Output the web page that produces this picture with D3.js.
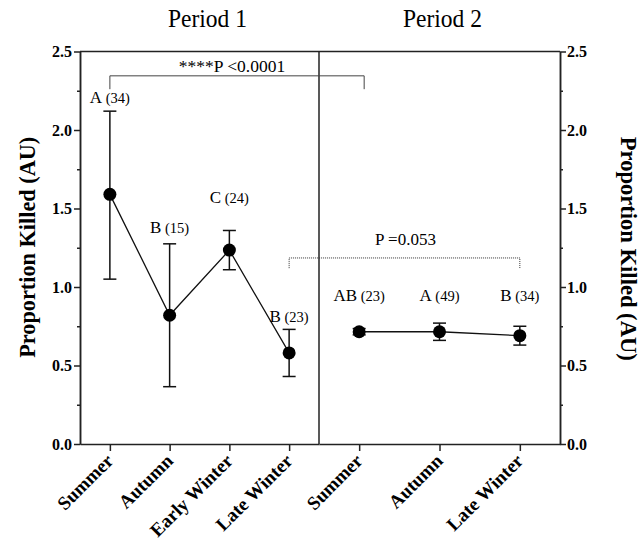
<!DOCTYPE html>
<html>
<head>
<meta charset="utf-8">
<script src="https://cdn.jsdelivr.net/npm/d3@7"></script>
<style>
  body { margin: 0; background: #fff; }
</style>
</head>
<body>
<div class="season-chart"></div>
<script>
// values
var period1Seasons = ["Summer", "Autumn", "Early Winter", "Late Winter"];
var period1Mean = [1.59, 0.82, 1.235, 0.58];
var period1Upper = [2.12, 1.275, 1.36, 0.73];
var period1Lower = [1.05, 0.365, 1.11, 0.43];
var period1Letters = ["A", "B", "C", "B"];
var period1N = [34, 15, 24, 23];

var period2Seasons = ["Summer", "Autumn", "Late Winter"];
var period2Mean = [0.715, 0.715, 0.69];
var period2Upper = [0.735, 0.77, 0.75];
var period2Lower = [0.695, 0.66, 0.63];
var period2Letters = ["AB", "A", "B"];
var period2N = [23, 49, 34];

var yTicks = [0, 0.5, 1.0, 1.5, 2.0, 2.5];
var yMinorTicks = [0.25, 0.75, 1.25, 1.75, 2.25];

var periodTitles = ["Period 1", "Period 2"];
var yTitle = "Proportion Killed (AU)";
var bigCompare = "****P <0.0001";
var smallCompare = "P =0.053";

var SERIF = "'Liberation Serif', 'Times New Roman', serif";
var Chart = {};

Chart.styleAxis = function (ax, size) {
	ax.attr("font-family", null).attr("font-size", null);
	ax.selectAll("path, line").attr("stroke", "#222").attr("stroke-width", 1.5);
	ax.selectAll("text")
		.style("font-family", SERIF)
		.style("font-size", (size || 16) + "px")
		.style("font-weight", "bold")
		.attr("fill", "#000");
	return ax;
}

Chart.draw = function () {
	var width = 641, height = 552;
	var left = 80, mid = 319, right = 560, top = 51.5, bottom = 444;

	var svg = d3.select(".season-chart").append("svg")
		.attr("width", width)
		.attr("height", height)
		.style("font-family", SERIF);

	var y = d3.scaleLinear().domain([0, 2.5]).range([bottom, top]);
	var x1 = d3.scalePoint().domain(period1Seasons).range([left, mid]).padding(0.5);
	var x2 = d3.scalePoint().domain(period2Seasons).range([mid, right]).padding(0.5);

	// y axes
	Chart.styleAxis(svg.append("g")
		.attr("transform", "translate(" + left + ",0)")
		.call(d3.axisLeft(y).tickValues(yTicks).tickFormat(d3.format(".1f")).tickSize(6).tickSizeOuter(0).tickPadding(2)));
	Chart.styleAxis(svg.append("g")
		.attr("transform", "translate(" + left + ",0)")
		.call(d3.axisLeft(y).tickValues(yMinorTicks).tickFormat("").tickSize(3).tickSizeOuter(0)));
	Chart.styleAxis(svg.append("g")
		.attr("transform", "translate(" + right + ",0)")
		.call(d3.axisRight(y).tickValues(yTicks).tickFormat(d3.format(".1f")).tickSize(6).tickSizeOuter(0).tickPadding(1)));
	Chart.styleAxis(svg.append("g")
		.attr("transform", "translate(" + right + ",0)")
		.call(d3.axisRight(y).tickValues(yMinorTicks).tickFormat("").tickSize(3).tickSizeOuter(0)));

	// x axes, labels turned 45deg
	[x1, x2].forEach(function (x) {
		var ax = Chart.styleAxis(svg.append("g")
			.attr("transform", "translate(0," + bottom + ")")
			.call(d3.axisBottom(x).tickSize(7).tickSizeOuter(0)), 19);
		ax.selectAll("text")
			.attr("text-anchor", "end")
			.attr("dy", "0")
			.attr("x", 0).attr("y", 0)
			.attr("transform", "translate(4,18) rotate(-45)");
	});

	// frame top + divider
	svg.append("line").attr("x1", left).attr("x2", right).attr("y1", top).attr("y2", top)
		.attr("stroke", "#222").attr("stroke-width", 1.5);
	svg.append("line").attr("x1", mid).attr("x2", mid).attr("y1", top).attr("y2", bottom)
		.attr("stroke", "#222").attr("stroke-width", 1.5);

	// titles
	svg.selectAll(".period-title").data(periodTitles).enter().append("text")
		.attr("class", "period-title")
		.attr("x", function (d, i) { return i == 0 ? 168 : 403; })
		.attr("y", 27)
		.attr("textLength", 79)
		.attr("lengthAdjust", "spacingAndGlyphs")
		.style("font-size", "25px")
		.text(function (d) { return d; });

	var midY = (top + bottom) / 2;
	svg.append("text")
		.attr("transform", "translate(35," + (midY + 110) + ") rotate(-90)")
		.attr("textLength", 221)
		.attr("lengthAdjust", "spacingAndGlyphs")
		.style("font-size", "24px").style("font-weight", "bold")
		.text(yTitle);
	svg.append("text")
		.attr("transform", "translate(621," + (midY - 111) + ") rotate(90)")
		.attr("textLength", 224)
		.attr("lengthAdjust", "spacingAndGlyphs")
		.style("font-size", "23px").style("font-weight", "bold")
		.text(yTitle);

	// series
	var series = [
		{ x: x1, seasons: period1Seasons, mean: period1Mean, hi: period1Upper, lo: period1Lower, letters: period1Letters, n: period1N, labelAt: [2.17, 1.345, 1.535, 0.78] },
		{ x: x2, seasons: period2Seasons, mean: period2Mean, hi: period2Upper, lo: period2Lower, letters: period2Letters, n: period2N, labelAt: [0.91, 0.91, 0.91] }
	];

	series.forEach(function (s) {
		var pts = s.seasons.map(function (name, i) {
			return { name: name, mean: s.mean[i], hi: s.hi[i], lo: s.lo[i], letter: s.letters[i], n: s.n[i], labelAt: s.labelAt[i] };
		});
		var g = svg.append("g");

		g.append("path")
			.datum(pts)
			.attr("fill", "none")
			.attr("stroke", "#111")
			.attr("stroke-width", 1.3)
			.attr("d", d3.line().x(function (d) { return s.x(d.name); }).y(function (d) { return y(d.mean); }));

		var eb = g.selectAll(".err").data(pts).enter().append("g").attr("class", "err")
			.attr("stroke", "#111").attr("stroke-width", 1.5);
		eb.append("line")
			.attr("x1", function (d) { return s.x(d.name); })
			.attr("x2", function (d) { return s.x(d.name); })
			.attr("y1", function (d) { return y(d.hi); })
			.attr("y2", function (d) { return y(d.lo); });
		["hi", "lo"].forEach(function (k) {
			eb.append("line")
				.attr("x1", function (d) { return s.x(d.name) - 6.5; })
				.attr("x2", function (d) { return s.x(d.name) + 6.5; })
				.attr("y1", function (d) { return y(d[k]); })
				.attr("y2", function (d) { return y(d[k]); });
		});

		g.selectAll(".dot").data(pts).enter().append("circle")
			.attr("cx", function (d) { return s.x(d.name); })
			.attr("cy", function (d) { return y(d.mean); })
			.attr("r", 6.5)
			.attr("fill", "#000");

		var lab = g.selectAll(".lab").data(pts).enter().append("text")
			.attr("x", function (d) { return s.x(d.name); })
			.attr("y", function (d) { return y(d.labelAt); })
			.attr("text-anchor", "middle");
		lab.append("tspan").style("font-size", "17px").text(function (d) { return d.letter; });
		lab.append("tspan").style("font-size", "14.5px").text(function (d) { return " (" + d.n + ")"; });
	});

	// comparison brackets
	var b1x1 = x1(period1Seasons[0]), b1x2 = x2(period2Seasons[0]) + 5;
	svg.append("path")
		.attr("d", "M" + b1x1 + "," + y(2.26) + "V" + y(2.345) + "H" + b1x2 + "V" + y(2.26))
		.attr("fill", "none").attr("stroke", "#444").attr("stroke-width", 1);
	svg.append("text")
		.attr("x", (b1x1 + b1x2) / 2 - 5).attr("y", 72)
		.attr("text-anchor", "middle").style("font-size", "17.5px")
		.text(bigCompare);

	var b2x1 = x1(period1Seasons[3]), b2x2 = x2(period2Seasons[2]);
	svg.append("path")
		.attr("d", "M" + b2x1 + "," + y(1.12) + "V" + y(1.185) + "H" + b2x2 + "V" + y(1.12))
		.attr("fill", "none").attr("stroke", "#333").attr("stroke-width", 1)
		.attr("stroke-dasharray", "1,1");
	svg.append("text")
		.attr("x", (b2x1 + b2x2) / 2 + 1).attr("y", 245)
		.attr("text-anchor", "middle").style("font-size", "17px")
		.text(smallCompare);
};

Chart.draw();
</script>
</body>
</html>
